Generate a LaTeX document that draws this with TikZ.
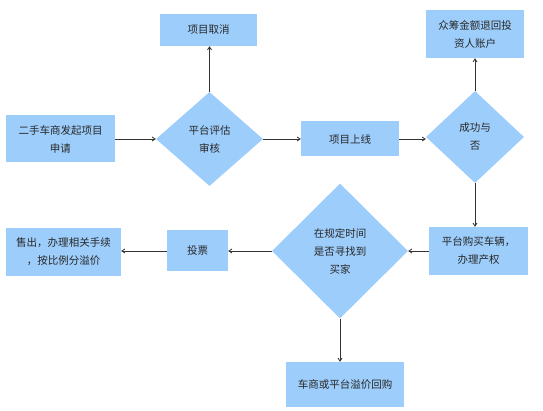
\documentclass[tikz,border=0pt]{standalone}
\usepackage{fontspec}
\setmainfont{Noto Sans CJK SC}
\usepackage{xcolor}
\usepackage{tikz}
\usetikzlibrary{shapes.geometric,arrows.meta,positioning}
\definecolor{flowblue}{RGB}{157,205,251}
\definecolor{flowtext}{RGB}{40,40,40}
\tikzset{
  stepbox/.style={fill=flowblue, inner sep=0pt, align=center, text=flowtext, font=\fontsize{10.5}{18}\selectfont},
  choice/.style={diamond, fill=flowblue, inner sep=0pt, align=center, text=flowtext, font=\fontsize{10.5}{18}\selectfont},
  flowarrow/.style={-{Straight Barb[length=3pt,width=4pt]}, line width=0.8pt, draw=black!80},
}

\begin{document}
\begin{tikzpicture}[x=1pt, y=-1pt]
  \useasboundingbox (0,0) rectangle (543,411);

  % top row
  \node[stepbox, minimum width=109pt, minimum height=47pt] (apply) at (60.5,139) {二手车商发起项目\\申请};
  \node[choice, minimum width=107pt, minimum height=94pt] (review) at (209.5,139) {平台评估\\审核};
  \node[stepbox, minimum width=97pt, minimum height=32pt] (cancel) at (208.5,30) {项目取消};
  \node[stepbox, minimum width=98pt, minimum height=35pt] (online) at (350,139) {项目上线};
  \node[choice, minimum width=98pt, minimum height=92pt] (result) at (475,137) {成功与\\否};
  \node[stepbox, minimum width=98pt, minimum height=48pt] (refund) at (475,34) {众筹金额退回投\\资人账户};

  % bottom row
  \node[stepbox, minimum width=99pt, minimum height=48pt] (buycar) at (478.5,251) {平台购买车辆，\\办理产权};
  \node[choice, minimum width=136pt, minimum height=135pt] (buyer) at (340,251) {在规定时间\\是否寻找到\\买家};
  \node[stepbox, minimum width=61pt, minimum height=41pt] (vote) at (197.5,251) {投票};
  \node[stepbox, minimum width=115pt, minimum height=48pt] (sell) at (63.5,252) {售出，办理相关手续\\，按比例分溢价};
  \node[stepbox, minimum width=118pt, minimum height=45pt] (buyback) at (345,384.5) {车商或平台溢价回购};

  % connectors
  \draw[flowarrow] (apply.east) -- (review.west);
  \draw[flowarrow] (review.north) -- (review.north |- cancel.south);
  \draw[flowarrow] (review.east) -- (online.west);
  \draw[flowarrow] (online.east) -- (online.east -| result.west);
  \draw[flowarrow] (result.north) -- (result.north |- refund.south);
  \draw[flowarrow] (result.south) -- (result.south |- buycar.north);
  \draw[flowarrow] (buycar.west) -- (buyer.east);
  \draw[flowarrow] (buyer.west) -- (vote.east);
  \draw[flowarrow] (vote.west) -- (vote.west -| sell.east);
  \draw[flowarrow] (buyer.south) -- (buyer.south |- buyback.north);
\end{tikzpicture}
\end{document}
